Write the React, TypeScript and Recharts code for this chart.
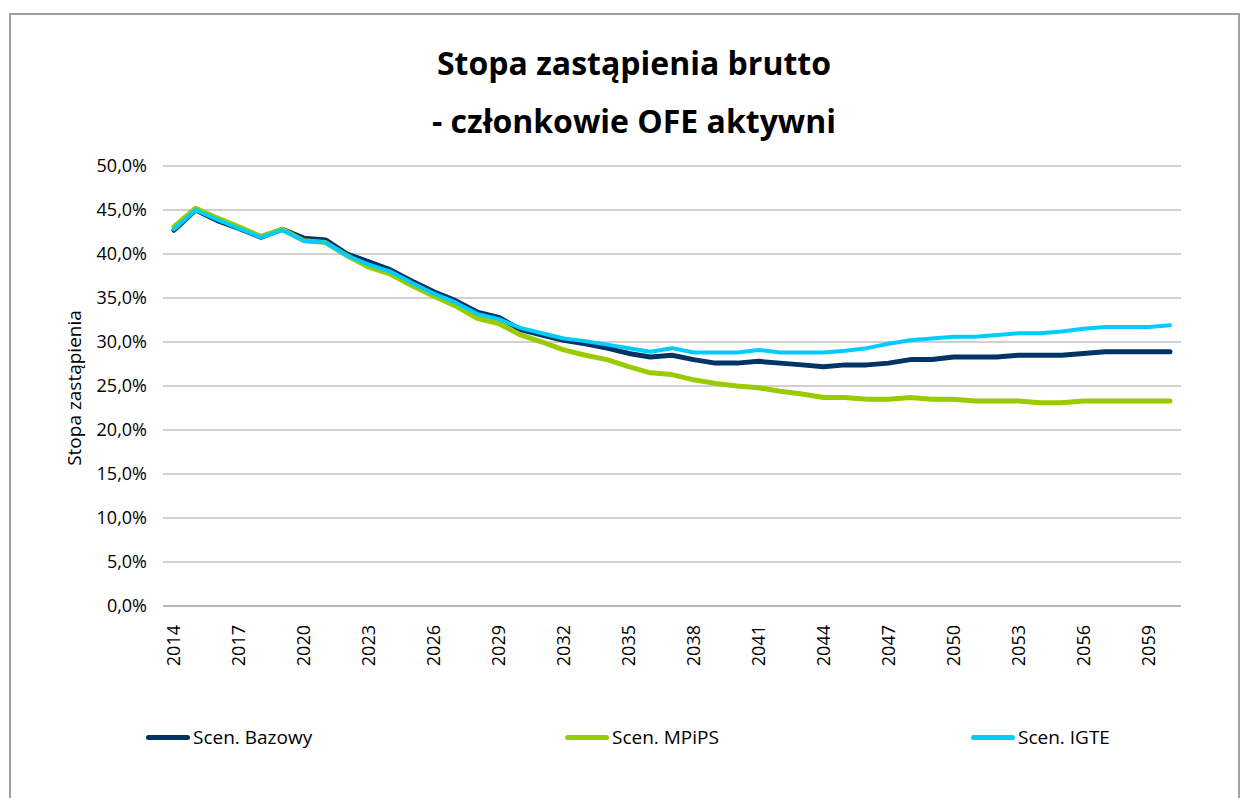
import React from 'react';
import { LineChart, Line, XAxis, YAxis, CartesianGrid } from 'recharts';

const years: number[] = [
  2014, 2015, 2016, 2017, 2018, 2019, 2020, 2021, 2022, 2023, 2024, 2025, 2026, 2027, 2028, 2029,
  2030, 2031, 2032, 2033, 2034, 2035, 2036, 2037, 2038, 2039, 2040, 2041, 2042, 2043, 2044, 2045,
  2046, 2047, 2048, 2049, 2050, 2051, 2052, 2053, 2054, 2055, 2056, 2057, 2058, 2059, 2060,
];

const bazowy: number[] = [
  42.7, 45.0, 43.8, 42.9, 41.9, 42.8, 41.8, 41.6, 40.0, 39.1, 38.2, 36.9, 35.7, 34.7, 33.4, 32.8,
  31.4, 30.8, 30.2, 29.8, 29.3, 28.7, 28.3, 28.5, 28.0, 27.6, 27.6, 27.8, 27.6, 27.4, 27.2, 27.4,
  27.4, 27.6, 28.0, 28.0, 28.3, 28.3, 28.3, 28.5, 28.5, 28.5, 28.7, 28.9, 28.9, 28.9, 28.9,
];

const mpips: number[] = [
  43.1, 45.2, 44.1, 43.1, 42.0, 42.8, 41.5, 41.3, 39.8, 38.5, 37.7, 36.4, 35.2, 34.1, 32.7, 32.1,
  30.8, 30.0, 29.1, 28.5, 28.0, 27.2, 26.5, 26.3, 25.7, 25.3, 25.0, 24.8, 24.4, 24.1, 23.7, 23.7,
  23.5, 23.5, 23.7, 23.5, 23.5, 23.3, 23.3, 23.3, 23.1, 23.1, 23.3, 23.3, 23.3, 23.3, 23.3,
];

const igte: number[] = [
  42.8, 45.0, 43.9, 42.9, 41.9, 42.7, 41.5, 41.3, 39.8, 38.8, 38.0, 36.7, 35.5, 34.5, 33.2, 32.6,
  31.6, 31.0, 30.4, 30.1, 29.7, 29.3, 28.9, 29.3, 28.8, 28.8, 28.8, 29.1, 28.8, 28.8, 28.8, 29.0,
  29.3, 29.8, 30.2, 30.4, 30.6, 30.6, 30.8, 31.0, 31.0, 31.2, 31.5, 31.7, 31.7, 31.7, 31.9,
];

const yTicks: number[] = [0, 5, 10, 15, 20, 25, 30, 35, 40, 45, 50];

const seriesNames = ['Scen. Bazowy', 'Scen. MPiPS', 'Scen. IGTE'];
const seriesColors = ['#003366', '#99CC00', '#00CCFF'];

const data = years.map((y, i) => ({
  year: String(y),
  bazowy: bazowy[i],
  mpips: mpips[i],
  igte: igte[i],
}));

const FONT = '"Open Sans", "DejaVu Sans", sans-serif';

const XTick = (props: any) => {
  const { x, y, payload } = props;
  return (
    <text
      x={x}
      y={y}
      transform={`rotate(-90, ${x}, ${y})`}
      textAnchor="end"
      dy="0.35em"
      fontSize={18}
      fontFamily={FONT}
      fill="#000"
    >
      {payload.value}
    </text>
  );
};

const YTick = (props: any) => {
  const { x, y, payload } = props;
  return (
    <text x={x} y={y} textAnchor="end" dy="0.35em" fontSize={18} fontFamily={FONT} fill="#000">
      {Number(payload.value).toFixed(1).replace('.', ',') + '%'}
    </text>
  );
};

export default function App() {
  const legendX = [146, 565, 971];
  return (
    <div style={{ position: 'absolute', left: 0, top: 0, width: 1250, height: 798, background: '#fff', overflow: 'hidden' }}>
      <div
        style={{
          position: 'absolute',
          left: 9,
          top: 13,
          width: 1231,
          height: 820,
          border: '2px solid #a0a0a0',
          boxSizing: 'border-box',
        }}
      />
      <div
        style={{
          position: 'absolute',
          left: 234,
          width: 800,
          top: 34,
          textAlign: 'center',
          fontFamily: FONT,
          fontWeight: 700,
          fontSize: 32,
          lineHeight: '58px',
          color: '#000',
        }}
      >
        <div>Stopa zastąpienia brutto</div>
        <div>- członkowie OFE aktywni</div>
      </div>
      <div
        style={{
          position: 'absolute',
          left: 74,
          top: 388,
          transform: 'translate(-50%, -50%) rotate(-90deg)',
          whiteSpace: 'nowrap',
          fontFamily: FONT,
          fontSize: 19,
          color: '#000',
        }}
      >
        Stopa zastąpienia
      </div>
      <div style={{ position: 'absolute', left: 0, top: 0 }}>
        <LineChart
          width={1250}
          height={798}
          data={data}
          margin={{ top: 166, right: 69, bottom: 132, left: 103 }}
        >
          <CartesianGrid horizontal={true} vertical={false} stroke="#a0a0a0" strokeWidth={1} />
          <XAxis
            dataKey="year"
            type="category"
            interval={2}
            height={60}
            padding={{ left: 11, right: 11 }}
            axisLine={{ stroke: '#a0a0a0' }}
            tickLine={false}
            tickSize={0}
            tickMargin={19}
            tick={<XTick />}
          />
          <YAxis
            type="number"
            domain={[0, 50]}
            ticks={yTicks}
            width={60}
            axisLine={false}
            tickLine={false}
            tickSize={0}
            tickMargin={16}
            tick={<YTick />}
            interval={0}
          />
          <Line
            type="linear"
            dataKey="bazowy"
            name={seriesNames[0]}
            stroke={seriesColors[0]}
            strokeWidth={5}
            dot={false}
            activeDot={false}
            strokeLinecap="round"
            strokeLinejoin="round"
            isAnimationActive={false}
          />
          <Line
            type="linear"
            dataKey="mpips"
            name={seriesNames[1]}
            stroke={seriesColors[1]}
            strokeWidth={5}
            dot={false}
            activeDot={false}
            strokeLinecap="round"
            strokeLinejoin="round"
            isAnimationActive={false}
          />
          <Line
            type="linear"
            dataKey="igte"
            name={seriesNames[2]}
            stroke={seriesColors[2]}
            strokeWidth={4}
            dot={false}
            activeDot={false}
            strokeLinecap="round"
            strokeLinejoin="round"
            isAnimationActive={false}
          />
        </LineChart>
      </div>
      {seriesNames.map((n, i) => (
        <div
          key={n}
          style={{
            position: 'absolute',
            left: legendX[i],
            top: 725,
            height: 24,
            display: 'flex',
            alignItems: 'center',
            fontFamily: FONT,
            fontSize: 19,
            color: '#000',
            whiteSpace: 'nowrap',
          }}
        >
          <div style={{ width: 44, height: 5, borderRadius: 3, background: seriesColors[i], marginRight: 3 }} />
          <span>{n}</span>
        </div>
      ))}
    </div>
  );
}
